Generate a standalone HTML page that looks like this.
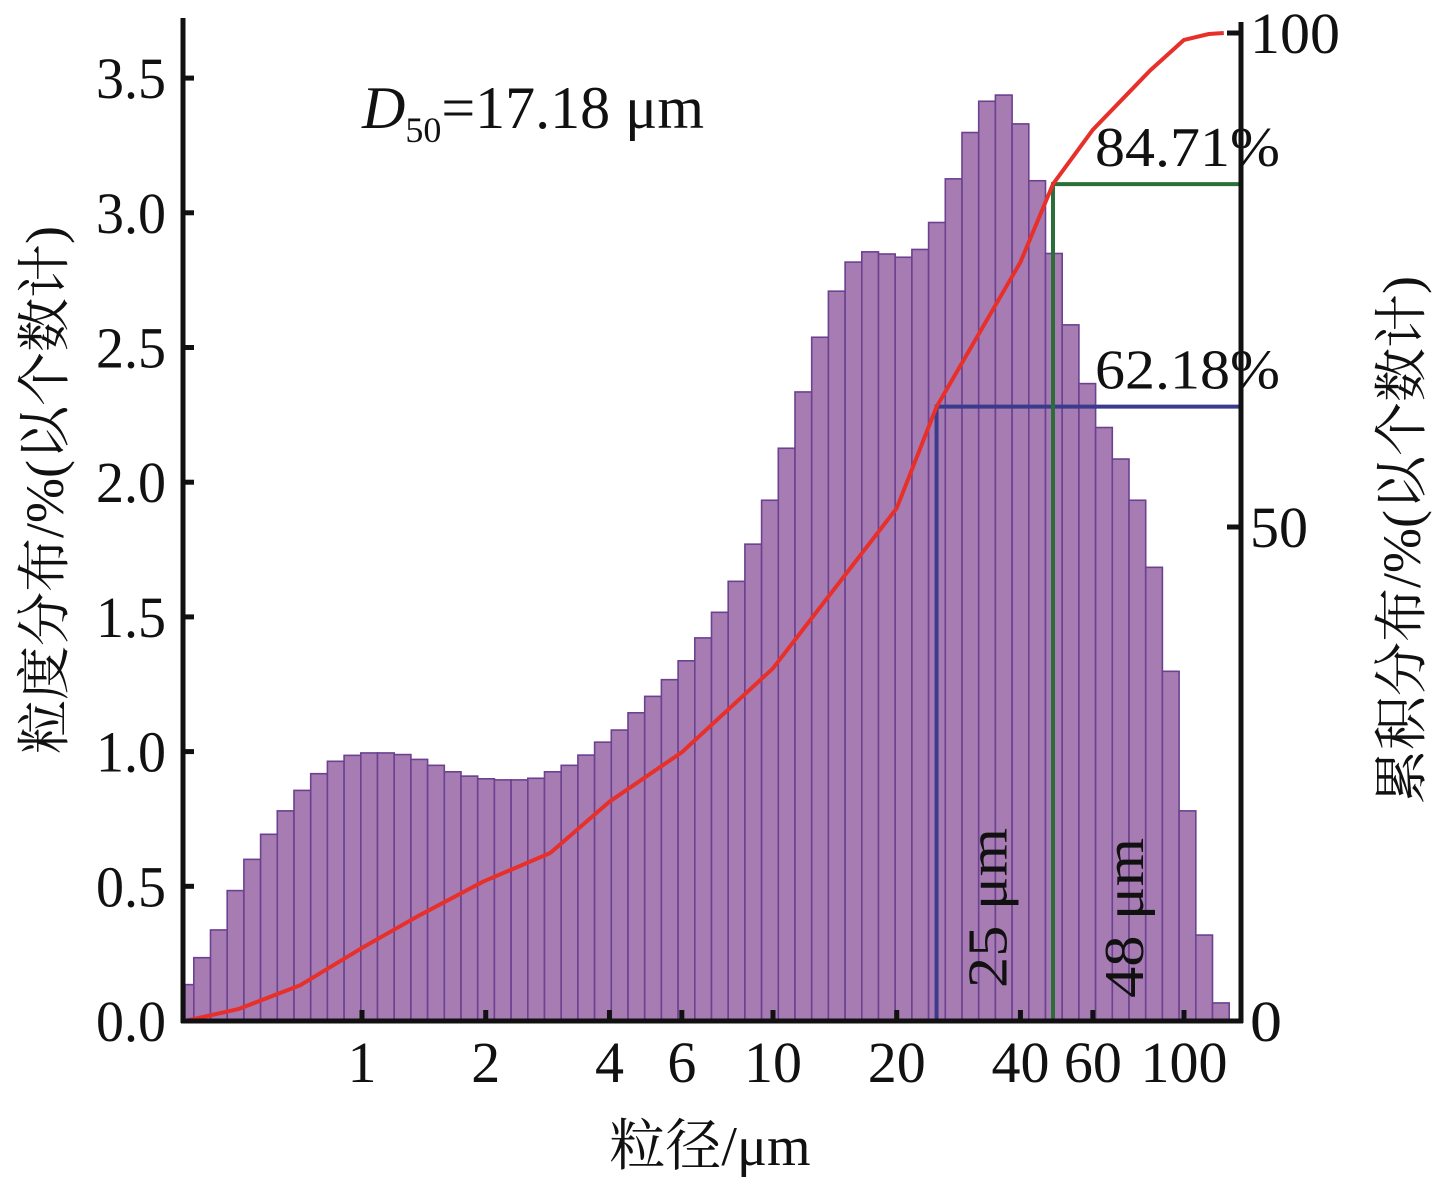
<!DOCTYPE html>
<html><head><meta charset="utf-8"><style>
html,body{margin:0;padding:0;background:#fff;}
svg{display:block;}
text{font-family:"Liberation Serif","Noto Serif CJK SC","Noto Sans CJK SC",serif;fill:#111;}
</style></head><body>
<svg id="chart" width="1441" height="1181" viewBox="0 0 1441 1181">
<g id="bars"></g>
<g id="curve"></g>
<g id="axes"></g>
</svg>
<script>
// distribution (%) per bin, bins of equal log width
const barValues = [0.135,0.235,0.338,0.484,0.60,0.693,0.78,0.856,0.918,0.964,0.986,0.995,0.995,0.989,0.971,0.949,0.925,0.909,0.899,0.895,0.895,0.901,0.925,0.949,0.987,1.035,1.080,1.144,1.205,1.267,1.337,1.422,1.517,1.632,1.770,1.933,2.126,2.335,2.538,2.709,2.817,2.855,2.847,2.835,2.864,2.964,3.126,3.298,3.414,3.437,3.330,3.119,2.849,2.584,2.366,2.203,2.086,1.933,1.684,1.298,0.78,0.319,0.067];
// cumulative curve (diameter um, cumulative %)
const cumDiam = [0.371,0.5,0.706,1,1.38,1.97,2.87,4,6,10,20,25,40,48,60,82.7,100,115,125];
const cumVals = [0,1.2,3.6,7.4,10.7,14.1,17.0,22.2,27.2,35.7,51.9,62.18,76.8,84.71,90.2,96.2,99.3,99.9,100];
const xTicks = [1,2,4,6,10,20,40,60,100];
const yTicksL = [0,0.5,1.0,1.5,2.0,2.5,3.0,3.5];
const yTicksR = [0,50,100];
const markers = [{d:25,p:62.18,label:"62.18%",dl:"25 μm",color:"#3b3b8e"},{d:48,p:84.71,label:"84.71%",dl:"48 μm",color:"#2b6e38"}];

const NS="http://www.w3.org/2000/svg";
const X0=183, X1=1241, Y0=1021;
const xs = d => 362 + 411*Math.log10(d);
const yL = v => Y0 - v*269.4;
const yR = p => Y0 - p*9.88;
function el(tag, attrs, parent){const e=document.createElementNS(NS,tag);for(const k in attrs)e.setAttribute(k,attrs[k]);parent.appendChild(e);return e;}
const gb=document.getElementById('bars'), gc=document.getElementById('curve'), ga=document.getElementById('axes');
const binW=16.7, firstEdge=193.8-binW;
barValues.forEach((v,i)=>{
  let xa=firstEdge+i*binW, xb=xa+binW;
  if(xa<X0+2) xa=X0+2;
  const r=el('rect',{x:xa,y:yL(v),width:xb-xa,height:Y0-yL(v),fill:'#a77cb3',stroke:'#6b4190','stroke-width':1.6},gb);
  
  
});
// markers
markers.forEach((m,i)=>{
  const x=xs(m.d), y=yR(m.p);
  const pl=el('polyline',{points:`${x},${Y0} ${x},${y} ${X1},${y}`,fill:'none',stroke:m.color,'stroke-width':4},gc);
  
  
});
// curve
const pts=cumDiam.map((d,i)=>xs(d).toFixed(1)+','+yR(cumVals[i]).toFixed(1)).join(' ');
const c=el('polyline',{points:pts,fill:'none',stroke:'#e8302a','stroke-width':4,'stroke-linejoin':'round'},gc);


// marker labels
markers.forEach((m,i)=>{
  const x=xs(m.d), y=yR(m.p);
  const t=el('text',{x:1280,y:y-18,'font-size':56,'text-anchor':'end',textLength:185,lengthAdjust:'spacingAndGlyphs'},gc);
  t.textContent=m.label;
  
  
  const tx=x+(i==0?70:90);
  const t2=el('text',{x:0,y:0,'font-size':56,transform:`translate(${tx},${i==0?988:998}) rotate(-90)`,textLength:160,lengthAdjust:'spacingAndGlyphs'},gc);
  t2.textContent=m.dl;
  
  
});
// axes lines
[[X0,18,X0,Y0+2],[X0-2,Y0,X1+2,Y0],[X1,22,X1,Y0+2]].forEach((l,i)=>{
  const a=el('line',{x1:l[0],y1:l[1],x2:l[2],y2:l[3],stroke:'#111','stroke-width':5},ga);
  
  
});
yTicksL.forEach(v=>{
  const y=yL(v);
  const tk=el('line',{x1:X0,y1:y,x2:X0+11,y2:y,stroke:'#111','stroke-width':5},ga);
  
  
  const t=el('text',{x:166,y:y+20,'font-size':58,'text-anchor':'end',textLength:70,lengthAdjust:'spacingAndGlyphs'},ga);
  t.textContent=v.toFixed(1);
  
  
});
yTicksR.forEach(p=>{
  const y=yR(p);
  const tk=el('line',{x1:X1-14,y1:y,x2:X1,y2:y,stroke:'#111','stroke-width':5},ga);
  
  
  const t=el('text',{x:1250,y:y+20,'font-size':58,textLength:p==100?90:(p==50?58:32),lengthAdjust:'spacingAndGlyphs'},ga);
  t.textContent=p;
  
  
});
xTicks.forEach(d=>{
  const x=xs(d);
  const tk=el('line',{x1:x,y1:Y0,x2:x,y2:Y0-11,stroke:'#111','stroke-width':5},ga);
  
  
  const s=String(d);
  const t=el('text',{x:x,y:1082,'font-size':58,'text-anchor':'middle',textLength:s.length*29,lengthAdjust:'spacingAndGlyphs'},ga);
  t.textContent=s;
  
  
});
</script>
<svg style="position:absolute;left:0;top:0" width="1441" height="1181">
<text x="710" y="1165" font-size="56" text-anchor="middle">粒径/μm</text>
<text transform="translate(63,490) rotate(-90)" font-size="54" text-anchor="middle">粒度分布/%(以个数计)</text>
<text transform="translate(1420,540) rotate(-90)" font-size="54" text-anchor="middle">累积分布/%(以个数计)</text>
<text x="362" y="128" font-size="60"><tspan font-style="italic">D</tspan><tspan font-size="36" dy="14">50</tspan><tspan dy="-14">=17.18 μm</tspan></text>
</svg>
</body></html>
